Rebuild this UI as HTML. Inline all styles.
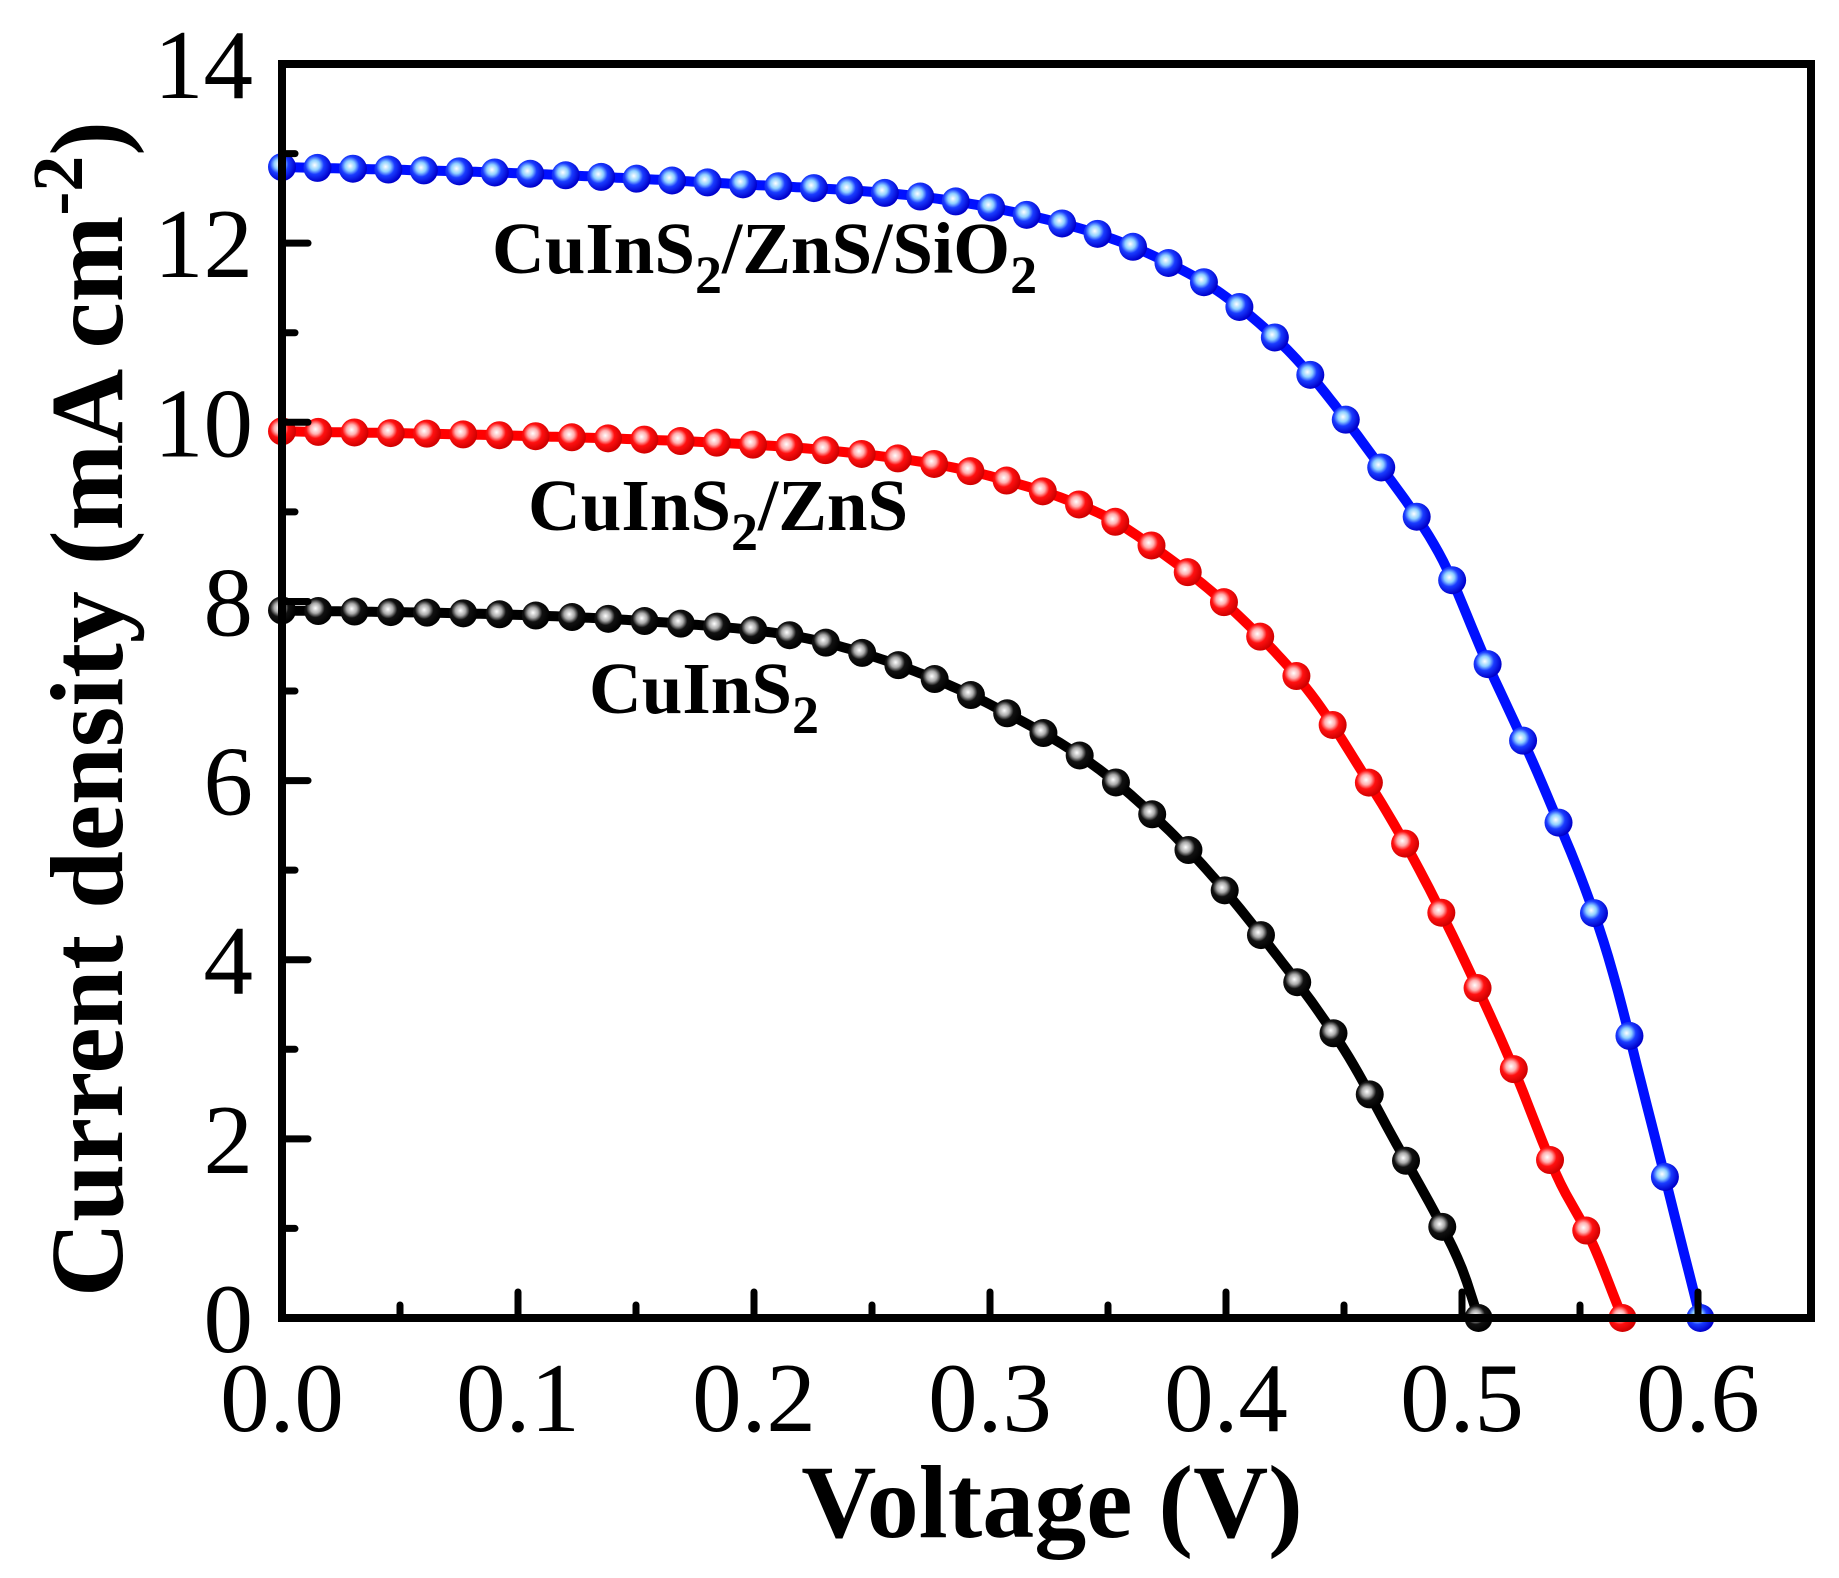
<!DOCTYPE html>
<html><head><meta charset="utf-8"><style>
html,body{margin:0;padding:0;background:#fff;}
svg{display:block;}
</style></head><body>
<svg id="s" width="1839" height="1578" viewBox="0 0 1839 1578" xmlns="http://www.w3.org/2000/svg" font-family="'Liberation Serif', serif">
<defs>
<radialGradient id="gb" cx="0.4" cy="0.4" r="0.6"><stop offset="0" stop-color="#fff"/><stop offset="0.3" stop-color="#8fd0ff"/><stop offset="0.55" stop-color="#1a3cff"/><stop offset="1" stop-color="#0000cc"/></radialGradient>
<radialGradient id="gr" cx="0.4" cy="0.4" r="0.6"><stop offset="0" stop-color="#fff"/><stop offset="0.3" stop-color="#ffb0b0"/><stop offset="0.55" stop-color="#ff1010"/><stop offset="1" stop-color="#d00000"/></radialGradient>
<radialGradient id="gk" cx="0.4" cy="0.4" r="0.6"><stop offset="0" stop-color="#fff"/><stop offset="0.3" stop-color="#aaa"/><stop offset="0.55" stop-color="#111"/><stop offset="1" stop-color="#000"/></radialGradient>
</defs>
<g id="data"></g>
<rect x="282" y="64" width="1529" height="1254" fill="none" stroke="#000" stroke-width="8"/>
<g id="ticks" stroke="#000" stroke-width="7" stroke-linecap="round"></g>
<g id="labels" font-size="99" fill="#000"></g>
<text x="1052" y="1537" font-size="104" font-weight="bold" text-anchor="middle">Voltage (V)</text>
<text transform="translate(122,709) rotate(-90)" font-size="104" font-weight="bold" text-anchor="middle">Current density (mA cm<tspan font-size="72" dy="-40">-2</tspan><tspan dy="40">)</tspan></text>
<g font-size="73" font-weight="bold">
<text x="492" y="273">CuInS<tspan font-size="54" dy="20">2</tspan><tspan dy="-20">/ZnS/SiO</tspan><tspan font-size="54" dy="20">2</tspan></text>
<text x="528" y="530">CuInS<tspan font-size="54" dy="20">2</tspan><tspan dy="-20">/ZnS</tspan></text>
<text x="589" y="713">CuInS<tspan font-size="54" dy="20">2</tspan></text>
</g>
</svg>
<script>
const X=v=>282+v*2360, Y=j=>1318-j*89.57;
const ns="http://www.w3.org/2000/svg";
function el(t,a,p){const e=document.createElementNS(ns,t);for(const k in a)e.setAttribute(k,a[k]);p.appendChild(e);return e;}
const tk=document.getElementById('ticks'), lb=document.getElementById('labels');
for(let i=0;i<=12;i++){const x=X(i*0.05);const L=i%2?13:26;el('line',{x1:x,y1:1318,x2:x,y2:1318-L},tk);
 if(i%2==0){const t=el('text',{x:x,y:1431,'text-anchor':'middle'},lb);t.textContent=(i*0.05).toFixed(1);}}
for(let i=0;i<=14;i++){const y=Y(i);const L=i%2?13:26;el('line',{x1:282,y1:y,x2:282+L,y2:y},tk);
 if(i%2==0){const t=el('text',{x:253,y:y+34,'text-anchor':'end'},lb);t.textContent=i;}}
function interp(k,v){if(v<=k[0][0])return k[0][1];for(let i=1;i<k.length;i++){if(v<=k[i][0]){const a=k[i-1],b=k[i];
 const p0=k[Math.max(0,i-2)],p3=k[Math.min(k.length-1,i+1)];const t=(v-a[0])/(b[0]-a[0]);
 const m1=(b[1]-p0[1])/(b[0]-p0[0])*(b[0]-a[0]),m2=(p3[1]-a[1])/(p3[0]-a[0])*(b[0]-a[0]);
 const t2=t*t,t3=t2*t;return (2*t3-3*t2+1)*a[1]+(t3-2*t2+t)*m1+(-2*t3+3*t2)*b[1]+(t3-t2)*m2;}}return k[k.length-1][1];}
const S=[
 {c:'#0010ff',g:'gb',k:[[0,12.85],[0.1,12.78],[0.2,12.65],[0.26,12.55],[0.3,12.4],[0.34,12.15],[0.37,11.85],[0.4,11.4],[0.43,10.7],[0.46,9.7],[0.49,8.55],[0.51,7.35],[0.535,5.9],[0.56,4.2],[0.58,2.2],[0.59,1.15],[0.601,0]]},
 {c:'#ff0000',g:'gr',k:[[0,9.9],[0.1,9.85],[0.2,9.75],[0.26,9.6],[0.3,9.4],[0.345,9.0],[0.375,8.5],[0.405,7.85],[0.435,7.0],[0.46,6.0],[0.48,5.1],[0.5,4.05],[0.52,2.9],[0.54,1.6],[0.555,0.85],[0.568,0]]},
 {c:'#000',g:'gk',k:[[0,7.9],[0.1,7.85],[0.17,7.75],[0.22,7.6],[0.26,7.3],[0.3,6.85],[0.345,6.15],[0.385,5.2],[0.42,4.1],[0.45,3.0],[0.47,2.05],[0.49,1.1],[0.5,0.55],[0.507,0]]}];
const d=document.getElementById('data');
S.forEach(s=>{const voc=s.k[s.k.length-1][0];let pts=[];for(let v=0;v<=voc+1e-9;v+=0.002)pts.push(X(v).toFixed(1)+','+Y(Math.max(0,interp(s.k,v))).toFixed(1));
 pts.push(X(voc)+','+Y(0));
 el('polyline',{points:pts.join(' '),fill:'none',stroke:s.c,'stroke-width':10,'stroke-linejoin':'round'},d);
 const n=Math.round(voc/0.01515);const st=voc/n;
 for(let i=0;i<=n;i++){const v=i*st;el('circle',{cx:X(v),cy:Y(Math.max(0,interp(s.k,v))),r:14,fill:'url(#'+s.g+')'},d);}});
</script>
</body></html>
